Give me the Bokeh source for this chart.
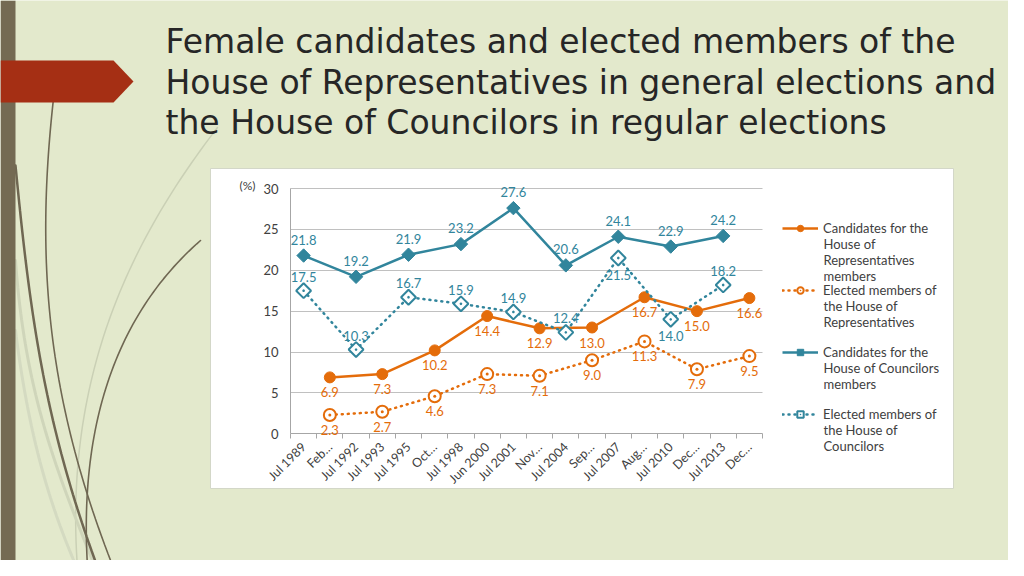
import math
import numpy as np
from bokeh.plotting import figure
from bokeh.models import (Range1d, FixedTicker, Legend, LegendItem, LabelSet, LinearAxis,
                          Grid, ColumnDataSource)
from bokeh.embed import file_html
from bokeh.resources import INLINE
from bokeh.core.properties import value

# ---------------- data ----------------
categories = ["Jul 1989", "Feb 1990", "Jul 1992", "Jul 1993", "Jul 1995", "Oct 1996",
              "Jul 1998", "Jun 2000", "Jul 2001", "Nov 2003", "Jul 2004", "Sep 2005",
              "Jul 2007", "Aug 2009", "Jul 2010", "Dec 2012", "Jul 2013", "Dec 2014"]
tick_labels = ["Jul 1989", "Feb…", "Jul 1992", "Jul 1993", "Jul 1995", "Oct…",
               "Jul 1998", "Jun 2000", "Jul 2001", "Nov…", "Jul 2004", "Sep…",
               "Jul 2007", "Aug…", "Jul 2010", "Dec…", "Jul 2013", "Dec…"]

rep_dates = ["Feb 1990", "Jul 1993", "Oct 1996", "Jun 2000", "Nov 2003",
             "Sep 2005", "Aug 2009", "Dec 2012", "Dec 2014"]
rep_candidates = [6.9, 7.3, 10.2, 14.4, 12.9, 13.0, 16.7, 15.0, 16.6]
rep_elected = [2.3, 2.7, 4.6, 7.3, 7.1, 9.0, 11.3, 7.9, 9.5]

cou_dates = ["Jul 1989", "Jul 1992", "Jul 1995", "Jul 1998", "Jul 2001",
             "Jul 2004", "Jul 2007", "Jul 2010", "Jul 2013"]
cou_candidates = [21.8, 19.2, 21.9, 23.2, 27.6, 20.6, 24.1, 22.9, 24.2]
cou_elected = [17.5, 10.3, 16.7, 15.9, 14.9, 12.4, 21.5, 14.0, 18.2]

y_ticks = [0, 5, 10, 15, 20, 25, 30]

legend_lines = [["Candidates for the", "House of", "Representatives", "members"],
                ["Elected members of", "the House of", "Representatives"],
                ["Candidates for the", "House of Councilors", "members"],
                ["Elected members of", "the House of", "Councilors"]]

title_lines = ["Female candidates and elected members of the",
               "House of Representatives in general elections and",
               "the House of Councilors in regular elections"]

# label placement (style): which councillor-elected labels sit below the marker
cou_elected_below = [False, False, False, False, False, False, True, True, False]

# ---------------- style / layout ----------------
ORANGE = "#e46c0a"
TEAL = "#31859c"
AX_TXT = "#404040"
GRID = "#c0c0c0"
AXIS = "#a6a6a6"
BG = "#e3e9cc"
FONT = "Lato"

W, H = 1008, 560           # canvas px == slide px
PX_L, PX_R = 290, 762      # plot area left/right
PX_B, PX_T = 433.3, 188.0  # y=0 and y=30
n = len(categories)

ux = (PX_R - PX_L) / n
vy = (PX_B - PX_T) / 30.0
cat_range = Range1d(-0.5 + (0 - PX_L) / ux, -0.5 + (W - PX_L) / ux)
val_range = Range1d(-(H - PX_B) / vy, PX_B / vy)

p = figure(width=W, height=H,
           x_range=Range1d(0, W), y_range=Range1d(H, 0),
           x_axis_location=None, y_axis_location=None,
           output_backend="svg", toolbar_location=None, min_border=0,
           background_fill_color=BG, border_fill_color=BG, outline_line_color=None)
p.extra_x_ranges = {"cat": cat_range}
p.extra_y_ranges = {"val": val_range}
p.grid.visible = False

# ---------------- slide decoration (slide pixel coordinates) ----------------
# soft background glow
gh, gw = 70, 126
yy, xx = np.mgrid[0:gh, 0:gw]
d = np.clip(np.hypot((xx * 8 - 330) / 900.0, (yy * 8 - 330) / 600.0), 0, 1)
light = np.array([0xea, 0xf0, 0xdc], dtype=float)
dark = np.array([0xe0, 0xe7, 0xc5], dtype=float)
rgb = light[None, None, :] * (1 - d[..., None]) + dark[None, None, :] * d[..., None]
img = np.empty((gh, gw), dtype=np.uint32)
view = img.view(dtype=np.uint8).reshape((gh, gw, 4))
view[..., 0] = rgb[..., 0].astype(np.uint8)
view[..., 1] = rgb[..., 1].astype(np.uint8)
view[..., 2] = rgb[..., 2].astype(np.uint8)
view[..., 3] = 255
img = img[::-1]  # image rows run bottom-up in data space; y axis is flipped
p.image_rgba(image=[img], x=0, y=H, dw=W, dh=H, level="image")


def bez(p0, p1, p2, p3, k=60):
    xs, ys = [], []
    for i in range(k + 1):
        t = i / k
        a, b, c, dd = (1 - t) ** 3, 3 * (1 - t) ** 2 * t, 3 * (1 - t) * t ** 2, t ** 3
        xs.append(a * p0[0] + b * p1[0] + c * p2[0] + dd * p3[0])
        ys.append(a * p0[1] + b * p1[1] + c * p2[1] + dd * p3[1])
    return xs, ys


curves = [
    (((217, 127), (130, 240), (60, 380), (78, 580)), "#cad0b5", 1.5),
    (((15, 260), (25, 400), (60, 480), (100, 580)), "#cfd5ba", 3),
    (((15, 330), (30, 450), (55, 520), (82, 580)), "#d4dac1", 3),
    (((15, 165), (30, 320), (45, 430), (102, 580)), "#6f6752", 2.5),
    (((53, 98), (35, 260), (45, 400), (118, 580)), "#6f6752", 1.6),
    (((200, 240), (120, 310), (75, 420), (88, 580)), "#6f6752", 1.6),
]
for pts, col, lw in curves:
    xs, ys = bez(*pts)
    p.line(xs, ys, line_color=col, line_width=lw, line_cap="round", level="image")

p.quad(left=[0], right=[15], top=[0], bottom=[576], fill_color="#746a53",
       line_color=None, level="image")
p.patch([0, 113, 133, 113, 0], [60, 60, 81, 102, 102], fill_color="#a52f14",
        line_color=None, level="image")

# white chart panel
p.quad(left=[210], right=[953], top=[168], bottom=[488], fill_color="white",
       line_color="#d3d7c8", line_width=1, level="image")

# title
p.text(x=[165] * 3, y=[41, 81.5, 122], text=title_lines, text_font=value("DejaVu Sans"),
       text_font_size="33px", text_color="#262626", text_baseline="alphabetic")

p.text(x=[239], y=[185], text=["(%)"], text_font=value(FONT), text_font_size="12px",
       text_color=AX_TXT, text_baseline="middle")

# ---------------- axes / grid ----------------
xax = LinearAxis(x_range_name="cat", y_range_name="val", fixed_location=0,
                 bounds=(-0.5, n - 0.5),
                 ticker=FixedTicker(ticks=list(range(n)),
                                    minor_ticks=[i - 0.5 for i in range(n + 1)]))
xax.major_label_overrides = {i: lbl for i, lbl in enumerate(tick_labels)}
xax.major_label_orientation = math.pi / 4
xax.major_tick_out = 0
xax.major_tick_in = 0
xax.minor_tick_out = 5
xax.minor_tick_in = 0
xax.minor_tick_line_color = AXIS
xax.axis_line_color = AXIS
xax.major_label_standoff = 6
xax.major_label_text_font = FONT
xax.major_label_text_font_size = "12.5px"
xax.major_label_text_color = AX_TXT
p.add_layout(xax, "below")

yax = LinearAxis(x_range_name="cat", y_range_name="val", fixed_location=-0.5,
                 bounds=(0, 30), ticker=FixedTicker(ticks=y_ticks))
yax.major_tick_out = 0
yax.major_tick_in = 0
yax.minor_tick_out = 0
yax.minor_tick_in = 0
yax.axis_line_color = AXIS
yax.major_label_standoff = 12
yax.major_label_text_font = FONT
yax.major_label_text_font_size = "13px"
yax.major_label_text_color = AX_TXT
p.add_layout(yax, "left")

grid_kw = dict(dimension=1, x_range_name="cat", y_range_name="val",
               ticker=FixedTicker(ticks=y_ticks[1:]), bounds=(0, 30),
               grid_line_color=GRID, grid_line_width=1)
if "cross_bounds" in Grid.properties():
    grid_kw["cross_bounds"] = (-0.5, n - 0.5)
p.add_layout(Grid(**grid_kw))

# ---------------- series ----------------
rep_x = [categories.index(d) for d in rep_dates]
cou_x = [categories.index(d) for d in cou_dates]

src_rc = ColumnDataSource(dict(x=rep_x, y=rep_candidates, t=["%.1f" % v for v in rep_candidates],
                               off=[-15] * len(rep_x)))
src_re = ColumnDataSource(dict(x=rep_x, y=rep_elected, t=["%.1f" % v for v in rep_elected],
                               off=[-15] * len(rep_x)))
src_cc = ColumnDataSource(dict(x=cou_x, y=cou_candidates, t=["%.1f" % v for v in cou_candidates],
                               off=[16] * len(cou_x)))
src_ce = ColumnDataSource(dict(x=cou_x, y=cou_elected, t=["%.1f" % v for v in cou_elected],
                               off=[-17 if b else 14 for b in cou_elected_below]))

rk = dict(x_range_name="cat", y_range_name="val")
r1l = p.line("x", "y", source=src_rc, line_color=ORANGE, line_width=2.5, **rk)
r1m = p.scatter("x", "y", source=src_rc, marker="circle", size=11, fill_color=ORANGE,
                line_color=ORANGE, **rk)
r2l = p.line("x", "y", source=src_re, line_color=ORANGE, line_width=2.5,
             line_dash="1 5", line_cap="round", **rk)
r2m = p.scatter("x", "y", source=src_re, marker="circle_dot", size=12, fill_color="white",
                line_color=ORANGE, line_width=2, **rk)
r3l = p.line("x", "y", source=src_cc, line_color=TEAL, line_width=2.5, **rk)
r3m = p.scatter("x", "y", source=src_cc, marker="square", angle=math.pi / 4, size=9.5,
                fill_color=TEAL, line_color=TEAL, **rk)
r4l = p.line("x", "y", source=src_ce, line_color=TEAL, line_width=2.5,
             line_dash="1 5", line_cap="round", **rk)
r4m = p.scatter("x", "y", source=src_ce, marker="square_dot", angle=math.pi / 4, size=10.5,
                fill_color="white", line_color=TEAL, line_width=2, **rk)

for src, col in [(src_rc, ORANGE), (src_re, ORANGE), (src_cc, TEAL), (src_ce, TEAL)]:
    p.add_layout(LabelSet(x="x", y="y", text="t", source=src, y_offset="off",
                          x_range_name="cat", y_range_name="val",
                          text_align="center", text_baseline="middle",
                          text_font=value(FONT), text_font_size="13px", text_color=col))

# ---------------- legend ----------------
LEG_X, LEG_TOP, LEG_PITCH, LINE_H = 782, 220, 62, 15.8
ITEM_H, SPACING = 16, 46
legend = Legend(items=[LegendItem(label=legend_lines[0][0], renderers=[r1l, r1m]),
                       LegendItem(label=legend_lines[1][0], renderers=[r2l, r2m]),
                       LegendItem(label=legend_lines[2][0], renderers=[r3l, r3m]),
                       LegendItem(label=legend_lines[3][0], renderers=[r4l, r4m])],
                location=(LEG_X, H - LEG_TOP - (4 * ITEM_H + 3 * SPACING)),
                margin=0, padding=0, spacing=SPACING,
                glyph_width=36, glyph_height=ITEM_H, label_height=ITEM_H, label_standoff=5,
                label_text_font=FONT, label_text_font_size="13px",
                label_text_color=AX_TXT,
                border_line_color=None, background_fill_alpha=0)
p.add_layout(legend)

cont_x, cont_y, cont_t = [], [], []
for i, lines in enumerate(legend_lines):
    for k, t in enumerate(lines[1:], start=1):
        cont_x.append(LEG_X + 36 + 5)
        cont_y.append(LEG_TOP + ITEM_H / 2 + i * LEG_PITCH + k * LINE_H)
        cont_t.append(t)
p.text(x=cont_x, y=cont_y, text=cont_t, text_font=value(FONT), text_font_size="13px",
       text_color=AX_TXT, text_baseline="middle")

open("out.html", "w").write(file_html(p, INLINE))
